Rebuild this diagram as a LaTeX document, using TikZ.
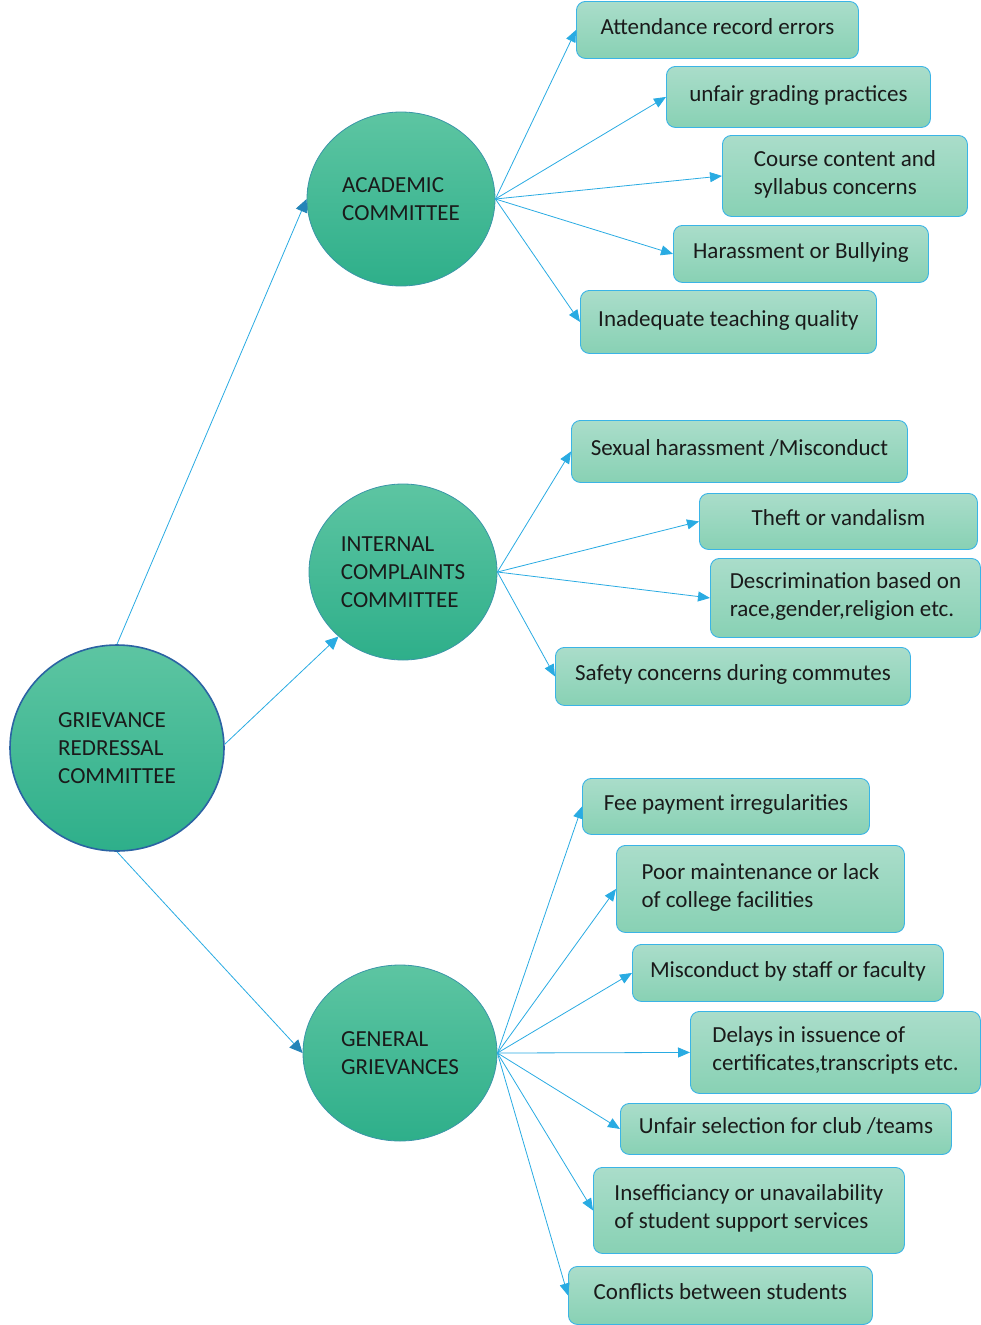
\documentclass[tikz,border=0pt]{standalone}
\usepackage{fontspec}
\setmainfont{Carlito}
\usetikzlibrary{arrows.meta,shapes.geometric}
\definecolor{hubtop}{HTML}{5DC5A2}
\definecolor{hubbot}{HTML}{2EAF8A}
\definecolor{hubline}{HTML}{3A96A8}
\definecolor{rootline}{HTML}{2B63A3}
\definecolor{boxtop}{HTML}{AADDCA}
\definecolor{boxbot}{HTML}{88D1B4}
\definecolor{boxline}{HTML}{3AB4E6}
\definecolor{linkblue}{HTML}{29ABE2}
\definecolor{trunkblue}{HTML}{2484B8}
\definecolor{inkblack}{HTML}{1A1A1A}

\begin{document}
\begin{tikzpicture}[x=1pt,y=-1pt,
    font=\fontsize{23}{28}\selectfont,
    hub/.style={ellipse,draw=hubline,line width=0.8pt,top color=hubtop,bottom color=hubbot,
      minimum width=188pt,minimum height=174pt,inner sep=0pt,align=left,text=inkblack},
    box/.style={rounded corners=9pt,draw=boxline,line width=0.9pt,top color=boxtop,bottom color=boxbot,
      anchor=north west,inner sep=0pt,text depth=7pt,align=left,text=inkblack},
    link/.style={draw=linkblue,line width=0.8pt,-{Triangle[length=12pt,width=10pt,color=linkblue]}},
    trunk/.style={draw=linkblue,line width=0.8pt,-{Triangle[length=13pt,width=12pt,color=trunkblue]}}]
  \useasboundingbox (0,0) rectangle (981,1325);
  \node[hub,draw=rootline,line width=1.6pt,minimum width=214pt,minimum height=206pt] (Root) at (117,748) {GRIEVANCE\\REDRESSAL\\COMMITTEE};
  \node[hub] (Acad) at (401,199) {ACADEMIC\\COMMITTEE};
  \node[hub,minimum width=188pt,minimum height=176pt] (Intl) at (403,572) {INTERNAL\\COMPLAINTS\\COMMITTEE};
  \node[hub,minimum width=194pt,minimum height=176pt] (Gen) at (400,1053) {GENERAL\\GRIEVANCES};
  % academic
  \node[box,minimum width=282pt,minimum height=57pt] (A1) at (576,1) {Attendance record errors};
  \node[box,minimum width=264pt,minimum height=61pt] (A2) at (666,66) {unfair grading practices};
  \node[box,minimum width=245pt,minimum height=81pt] (A3) at (722,135) {Course content and\\syllabus concerns};
  \node[box,minimum width=255pt,minimum height=57pt] (A4) at (673,225) {Harassment or Bullying};
  \node[box,minimum width=296pt,minimum height=63pt] (A5) at (580,290) {Inadequate teaching quality};
  % internal complaints
  \node[box,minimum width=336pt,minimum height=62pt] (I1) at (571,420) {Sexual harassment /Misconduct};
  \node[box,minimum width=278pt,minimum height=56pt] (I2) at (699,493) {Theft or vandalism};
  \node[box,minimum width=270pt,minimum height=79pt] (I3) at (710,558) {Descrimination based on\\race,gender,religion etc.};
  \node[box,minimum width=355pt,minimum height=58pt] (I4) at (555,647) {Safety concerns during commutes};
  % general
  \node[box,minimum width=287pt,minimum height=56pt] (G1) at (582,778) {Fee payment irregularities};
  \node[box,minimum width=288pt,minimum height=87pt] (G2) at (616,845) {Poor maintenance or lack\\of college facilities};
  \node[box,minimum width=311pt,minimum height=57pt] (G3) at (632,944) {Misconduct by staff or faculty};
  \node[box,minimum width=290pt,minimum height=82pt] (G4) at (690,1011) {Delays in issuence of\\certificates,transcripts etc.};
  \node[box,minimum width=331pt,minimum height=51pt] (G5) at (620,1103) {Unfair selection for club /teams};
  \node[box,minimum width=311pt,minimum height=86pt] (G6) at (593,1167) {Insefficiancy or unavailability\\of student support services};
  \node[box,minimum width=304pt,minimum height=58pt] (G7) at (568,1266) {Conflicts between students};
  % connectors
  \draw[trunk] (Root.north) -- (Acad.west);
  \draw[trunk,-{Triangle[length=13pt,width=12pt,color=linkblue]}] (Root.2) -- (Intl.225);
  \draw[trunk] (Root.south) -- (Gen.west);
  \foreach \k in {A1,A2,A3,A4,A5}
    \draw[link] (Acad.east) -- (\k.west);
  \foreach \k in {I1,I2,I3,I4}
    \draw[link] (Intl.east) -- (\k.west);
  \foreach \k in {G1,G2,G3,G4,G5,G6,G7}
    \draw[link] (Gen.east) -- (\k.west);
\end{tikzpicture}
\end{document}
